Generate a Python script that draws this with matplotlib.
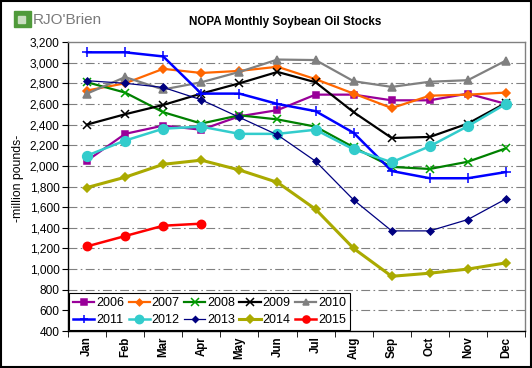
import matplotlib
matplotlib.use('Agg')
import matplotlib.pyplot as plt
import matplotlib.patches as mpatches
from matplotlib.ticker import FuncFormatter

plt.rcParams['font.family'] = ['Liberation Sans', 'DejaVu Sans']

# data (million pounds)
months = ["Jan", "Feb", "Mar", "Apr", "May", "Jun",
          "Jul", "Aug", "Sep", "Oct", "Nov", "Dec"]
years = ["2006", "2007", "2008", "2009", "2010",
         "2011", "2012", "2013", "2014", "2015"]

s2006 = [2050, 2310, 2390, 2350, 2480, 2540, 2690, 2690, 2635, 2635, 2700, 2600]
s2007 = [2730, 2800, 2940, 2900, 2920, 2960, 2840, 2700, 2560, 2680, 2690, 2710]
s2008 = [2810, 2710, 2520, 2410, 2490, 2450, 2380, 2180, 1990, 1970, 2040, 2170]
s2009 = [2400, 2500, 2590, 2700, 2800, 2910, 2810, 2520, 2270, 2280, 2410, 2610]
s2010 = [2700, 2860, 2740, 2810, 2910, 3030, 3025, 2820, 2765, 2815, 2830, 3020]
s2011 = [3100, 3100, 3060, 2700, 2700, 2600, 2530, 2320, 1950, 1880, 1880, 1940]
s2012 = [2100, 2245, 2360, 2380, 2310, 2310, 2350, 2160, 2035, 2190, 2385, 2600]
s2013 = [2825, 2800, 2760, 2640, 2470, 2300, 2045, 1670, 1370, 1370, 1480, 1680]
s2014 = [1790, 1890, 2015, 2055, 1960, 1840, 1580, 1200, 930, 960, 1000, 1060]
s2015 = [1220, 1320, 1420, 1440]

series = [s2006, s2007, s2008, s2009, s2010, s2011, s2012, s2013, s2014, s2015]

# style per year: line colour, marker, marker colour, marker size, line width
STYLES = {
    "2006": ("#990099", "s", "#990099", 4.5, 1.6),
    "2007": ("#FF6600", "D", "#FF6600", 4.0, 1.6),
    "2008": ("#008000", "x", "#00A000", 6.0, 1.6),
    "2009": ("#000000", "x", "#000000", 6.0, 1.6),
    "2010": ("#808080", "^", "#808080", 5.5, 1.6),
    "2011": ("#0000FF", "+", "#0000FF", 7.0, 1.8),
    "2012": ("#33CCCC", "o", "#33CCCC", 7.0, 1.8),
    "2013": ("#000080", "D", "#000080", 3.5, 0.9),
    "2014": ("#AAAA00", "D", "#AAAA00", 4.5, 2.2),
    "2015": ("#FF0000", "o", "#FF0000", 6.0, 1.8),
}

fig = plt.figure(figsize=(5.32, 3.68), dpi=100)
fig.patch.set_facecolor("white")
ax = fig.add_axes([68 / 532, 1 - 331 / 368, (525 - 68) / 532, (331 - 42) / 368])

x = list(range(len(months)))
handles = {}
for yr, vals in zip(years, series):
    c, m, mc, ms, lw = STYLES[yr]
    h, = ax.plot(x[:len(vals)], vals, color=c, lw=lw, marker=m, ms=ms,
                 markerfacecolor=mc, markeredgecolor=mc, markeredgewidth=1.1,
                 label=yr, zorder=3)
    handles[yr] = h

ax.set_xlim(-0.5, 11.5)
ax.set_ylim(400, 3200)
ax.set_yticks(range(400, 3201, 200))
ax.yaxis.set_major_formatter(FuncFormatter(lambda v, p: f"{int(v):,}"))
ax.set_xticks(x)
ax.set_xticklabels(months, rotation=90, fontweight='bold', fontsize=8.3)
ax.set_xticks([i - 0.5 for i in range(13)], minor=True)
ax.tick_params(axis='x', which='major', length=0, pad=4)
ax.tick_params(axis='x', which='minor', length=4, direction='out', color='black')
ax.tick_params(axis='y', length=4, direction='out', labelsize=8.6, pad=2)

for yv in range(600, 3200, 200):
    ax.axhline(yv, color='#808080', lw=0.8, ls=(0, (8, 3, 1.5, 3)), zorder=1)

ax.spines['left'].set_color('black')
ax.spines['bottom'].set_color('black')
ax.spines['top'].set_color('#808080')
ax.spines['right'].set_color('#808080')
for s in ax.spines.values():
    s.set_linewidth(1.0)

order = ["2006", "2011", "2007", "2012", "2008", "2013", "2009", "2014", "2010", "2015"]
leg = ax.legend([handles[k] for k in order], order, ncol=5, loc='lower left',
                bbox_to_anchor=(0, 0), borderaxespad=0.1, fontsize=9,
                handlelength=1.7, handletextpad=0.15, columnspacing=0.35,
                borderpad=0.3, labelspacing=0.4, fancybox=False,
                framealpha=1, edgecolor='black', markerscale=0.85)
leg.get_frame().set_linewidth(0.8)
leg.set_zorder(5)

fig.text(285 / 532, 1 - 22 / 368, "NOPA Monthly Soybean Oil Stocks",
         ha='center', va='center', fontsize=8.4, fontweight='bold')
fig.text(18 / 532, 1 - 178 / 368, "-million pounds-", rotation=90,
         ha='center', va='center', fontsize=8.8)

# logo
fig.patches.append(mpatches.Rectangle((14 / 532, 1 - 27 / 368), 17 / 532, 16 / 368,
                                      transform=fig.transFigure, color='#4F9A3A'))
fig.patches.append(mpatches.Rectangle((18 / 532, 1 - 23 / 368), 7 / 532, 7 / 368,
                                      transform=fig.transFigure, color='#C9DEC0'))
fig.text(33 / 532, 1 - 20 / 368, "RJO'Brien", ha='left', va='center',
         fontsize=11, color='#7A7A7A')

# outer frame
fig.patches.append(mpatches.Rectangle((0.002, 0.003), 0.996, 0.994,
                                      transform=fig.transFigure, fill=False,
                                      edgecolor='black', lw=1.5))

fig.savefig("out.png", dpi=100, facecolor='white')
